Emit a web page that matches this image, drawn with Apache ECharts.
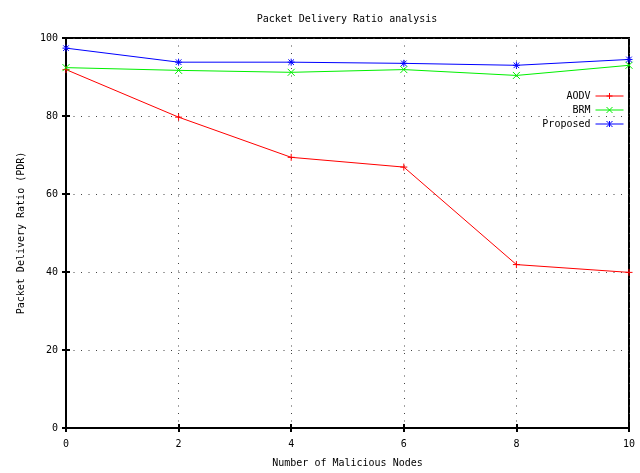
<!DOCTYPE html>
<html>
<head>
<meta charset="utf-8">
<script src="https://cdn.jsdelivr.net/npm/echarts@6/dist/echarts.min.js"></script>
<style>
  html, body { margin: 0; padding: 0; background: #fff; }
  #chart { width: 640px; height: 473px; }
</style>
</head>
<body>
<div id="chart"></div>
<script>
// Packet delivery ratio versus number of malicious nodes
const maliciousNodes = [0, 2, 4, 6, 8, 10];
const aodvPdr     = [91.9, 79.7, 69.4, 66.9, 41.9, 39.9];
const brmPdr      = [92.4, 91.7, 91.2, 91.9, 90.4, 93.0];
const proposedPdr = [97.4, 93.8, 93.8, 93.5, 93.0, 94.5];

const seriesNames = ['AODV', 'BRM', 'Proposed'];
const seriesColors = ['#ff0000', '#00f000', '#0000ff'];

// gnuplot-style point markers: plus, cross, star
const markers = [
  'path://M5 0L5 10M0 5L10 5',
  'path://M0 0L10 10M10 0L0 10',
  'path://M5 0L5 10M0 5L10 5M1 1L9 9M9 1L1 9'
];
// legend keys: a short line with the marker in its middle
const legendIcons = [
  'path://M0 4L28 4M14 1L14 7M11 4L17 4',
  'path://M0 4L28 4M11 1L17 7M17 1L11 7',
  'path://M0 4L28 4M14 1L14 7M11 1L17 7M17 1L11 7'
];

const FONT = 'DejaVu Sans Mono';

const pairs = ys => maliciousNodes.map((x, i) => [x, ys[i]]);

const chart = echarts.init(document.getElementById('chart'));

const series = [aodvPdr, brmPdr, proposedPdr].map((ys, i) => ({
  name: seriesNames[i],
  type: 'line',
  data: pairs(ys),
  symbol: markers[i],
  symbolSize: 7,
  showSymbol: true,
  lineStyle: { color: seriesColors[i], width: 1 },
  itemStyle: { color: 'transparent', borderColor: seriesColors[i], borderWidth: 1 },
  emphasis: { disabled: true },
  animation: false
}));

const gridLine = { show: true, lineStyle: { color: '#444', type: [1, 6.5], width: 1 } };
const tickStyle = { show: true, inside: true, length: 4, lineStyle: { color: '#000', width: 2 } };

chart.setOption({
  backgroundColor: '#ffffff',
  animation: false,
  title: {
    text: 'Packet Delivery Ratio analysis',
    left: 342, top: 9, textAlign: 'center',
    textStyle: { fontFamily: FONT, fontSize: 10, fontWeight: 'normal', color: '#000' }
  },
  legend: {
    orient: 'vertical',
    right: 11, top: 86,
    align: 'right',
    itemWidth: 28, itemHeight: 8, itemGap: 4,
    textStyle: { fontFamily: FONT, fontSize: 10, color: '#000' },
    data: seriesNames.map((n, i) => ({
      name: n,
      icon: legendIcons[i],
      itemStyle: { color: 'transparent', borderColor: seriesColors[i], borderWidth: 1 }
    }))
  },
  grid: {
    left: 66, right: 11, top: 38, bottom: 41,
    show: true, borderColor: '#000', borderWidth: 2
  },
  xAxis: [{
    type: 'value', min: 0, max: 10, interval: 2,
    name: 'Number of Malicious Nodes',
    nameLocation: 'middle', nameGap: 30,
    nameTextStyle: { fontFamily: FONT, fontSize: 10, color: '#000' },
    axisLine: { show: true, lineStyle: { color: '#000', width: 2 } },
    axisTick: tickStyle,
    axisLabel: { fontFamily: FONT, fontSize: 10, color: '#000', margin: 11 },
    splitLine: gridLine
  }, {
    type: 'value', min: 0, max: 10, interval: 2, position: 'top',
    axisLine: { show: false }, axisTick: tickStyle,
    axisLabel: { show: false }, splitLine: { show: false }
  }],
  yAxis: [{
    type: 'value', min: 0, max: 100, interval: 20,
    name: 'Packet Delivery Ratio (PDR)',
    nameLocation: 'middle', nameGap: 40,
    nameTextStyle: { fontFamily: FONT, fontSize: 10, color: '#000' },
    axisLine: { show: true, lineStyle: { color: '#000', width: 2 } },
    axisTick: tickStyle,
    axisLabel: { fontFamily: FONT, fontSize: 10, color: '#000', margin: 8 },
    splitLine: gridLine
  }, {
    type: 'value', min: 0, max: 100, interval: 20, position: 'right',
    axisLine: { show: false }, axisTick: tickStyle,
    axisLabel: { show: false }, splitLine: { show: false }
  }],
  series: series
});
</script>
</body>
</html>
